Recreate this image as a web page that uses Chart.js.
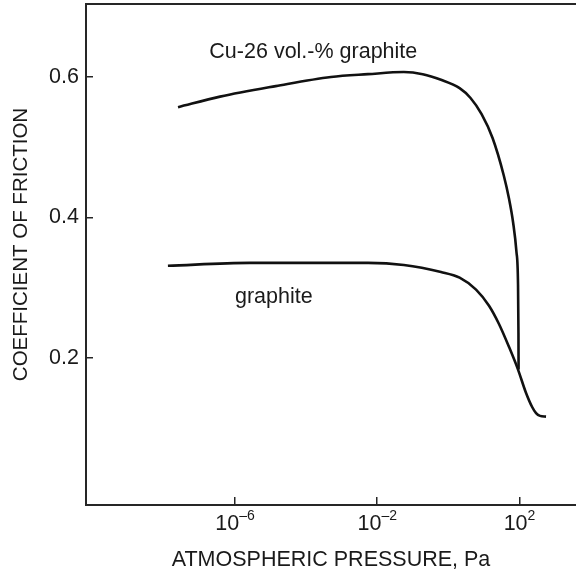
<!DOCTYPE html>
<html>
<head>
<meta charset="utf-8">
<style>
  html, body { margin: 0; padding: 0; background: #ffffff; }
  #wrap { width: 576px; height: 573px; }
</style>
<script src="https://cdn.jsdelivr.net/npm/chart.js@4/dist/chart.umd.min.js"></script>
</head>
<body>
<div id="wrap"><canvas id="c" width="576" height="573"></canvas></div>
<script>
// ---- data ----
const cuPressure = [2.5e-8, 3.8e-7, 1.4e-5, 5.0e-4, 5.5e-3, 5.6e-2, 0.19, 0.62, 2.07, 4.2, 8.6, 17.5, 36, 51, 66, 82, 91, 93.5, 94.3];
const cuFriction = [0.557, 0.572, 0.587, 0.600, 0.604, 0.607, 0.604, 0.596, 0.584, 0.570, 0.547, 0.513, 0.460, 0.426, 0.393, 0.351, 0.304, 0.235, 0.183];

const grPressure = [1.3e-8, 2.6e-6, 5.5e-3, 5.6e-2, 0.62, 2.07, 6.0, 13.9, 26.5, 51, 91, 152, 225, 292, 378, 557];
const grFriction = [0.331, 0.335, 0.335, 0.332, 0.322, 0.314, 0.297, 0.274, 0.248, 0.215, 0.183, 0.150, 0.130, 0.121, 0.117, 0.116];

const xTickValues = [1e-6, 1e-2, 1e2];
const xTickBase = ['10', '10', '10'];
const xTickExp = ['\u20136', '\u20132', '2'];
const yTickValues = [0.2, 0.4, 0.6];

const seriesLabels = ['Cu-26 vol.-% graphite', 'graphite'];
const labelAnchorX = [1.9e-7, 1e-6];
const labelAnchorY = [0.627, 0.278];

const xTitle = 'ATMOSPHERIC PRESSURE, Pa';
const yTitle = 'COEFFICIENT OF FRICTION';

// ---- build ----
const FONT = "'Liberation Sans', Arial, Helvetica, sans-serif";
const INK = '#1a1a1a';
const AXIS = '#262626';

function zip(xs, ys) { return xs.map((x, i) => ({ x: x, y: ys[i] })); }

const decorPlugin = {
  id: 'decor',
  afterDraw(chart) {
    const ctx = chart.ctx;
    const ca = chart.chartArea;
    const xs = chart.scales.x, ys = chart.scales.y;
    ctx.save();
    // top frame line
    ctx.strokeStyle = AXIS;
    ctx.lineWidth = 2;
    ctx.beginPath();
    ctx.moveTo(ca.left - 1, ca.top);
    ctx.lineTo(ca.right, ca.top);
    ctx.stroke();
    // x tick labels with superscript exponents
    ctx.fillStyle = INK;
    ctx.textBaseline = 'alphabetic';
    ctx.textAlign = 'left';
    xTickValues.forEach((v, i) => {
      const px = xs.getPixelForValue(v);
      ctx.font = '21.5px ' + FONT;
      const wb = ctx.measureText(xTickBase[i]).width;
      ctx.font = '14px ' + FONT;
      const we = ctx.measureText(xTickExp[i]).width;
      const start = px - (wb + we) / 2;
      const baseY = ca.bottom + 24.5;
      ctx.font = '21.5px ' + FONT;
      ctx.fillText(xTickBase[i], start, baseY);
      ctx.font = '14px ' + FONT;
      ctx.fillText(xTickExp[i], start + wb, baseY - 9.5);
    });
    // curve labels
    ctx.font = '21.5px ' + FONT;
    seriesLabels.forEach((t, i) => {
      ctx.fillText(t, xs.getPixelForValue(labelAnchorX[i]), ys.getPixelForValue(labelAnchorY[i]));
    });
    // y axis title (rotated)
    ctx.translate(ys.left + 21, (ca.top + ca.bottom) / 2 - 10);
    ctx.rotate(-Math.PI / 2);
    ctx.font = '20.5px ' + FONT;
    ctx.textAlign = 'center';
    ctx.textBaseline = 'middle';
    ctx.fillText(yTitle, 0, 0);
    ctx.restore();
  }
};

const lineStyle = {
  borderColor: '#111111',
  borderWidth: 2.6,
  pointRadius: 0,
  fill: false,
  cubicInterpolationMode: 'monotone',
  borderCapStyle: 'butt',
  borderJoinStyle: 'round'
};

new Chart(document.getElementById('c'), {
  type: 'line',
  data: {
    datasets: [
      Object.assign({ label: seriesLabels[0], data: zip(cuPressure, cuFriction) }, lineStyle),
      Object.assign({ label: seriesLabels[1], data: zip(grPressure, grFriction) }, lineStyle)
    ]
  },
  options: {
    responsive: false,
    devicePixelRatio: 1,
    animation: false,
    layout: { padding: { top: 4, right: 0, bottom: 0, left: 0 } },
    plugins: { legend: { display: false }, tooltip: { enabled: false } },
    scales: {
      x: {
        type: 'logarithmic',
        position: 'bottom',
        min: 6.46e-11,
        max: 3882,
        border: { display: true, color: AXIS, width: 2 },
        grid: { display: true, drawOnChartArea: false, drawTicks: true, tickLength: -8, color: AXIS, lineWidth: 1.5 },
        ticks: { display: false },
        afterBuildTicks(scale) { scale.ticks = xTickValues.map(v => ({ value: v })); },
        afterFit(scale) { scale.height = 68; scale.paddingLeft = 0; scale.paddingRight = 0; },
        title: {
          display: true, text: xTitle, color: INK,
          font: { family: FONT, size: 21.5, lineHeight: 1.2 },
          padding: { top: 0, bottom: 0 }
        }
      },
      y: {
        type: 'linear',
        position: 'left',
        min: -0.01,
        max: 0.704,
        border: { display: true, color: AXIS, width: 2 },
        grid: { display: true, drawOnChartArea: false, drawTicks: true, tickLength: -7, color: AXIS, lineWidth: 1.5 },
        ticks: {
          color: INK, padding: 14,
          font: { family: FONT, size: 21.5 },
          callback: (v) => Number(v).toFixed(1)
        },
        afterBuildTicks(scale) { scale.ticks = yTickValues.map(v => ({ value: v })); },
        afterFit(scale) { scale.width = 86; scale.paddingTop = 0; scale.paddingBottom = 0; },
        title: { display: false }
      }
    }
  },
  plugins: [decorPlugin]
});
</script>
</body>
</html>
